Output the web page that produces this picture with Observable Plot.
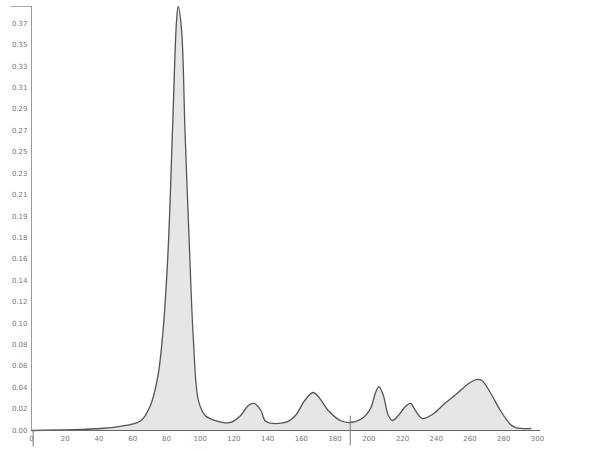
<!DOCTYPE html>
<html>
<head>
<meta charset="utf-8">
<script src="https://cdn.jsdelivr.net/npm/d3@7"></script>
<script src="https://cdn.jsdelivr.net/npm/@observablehq/plot@0.6"></script>
<style>
  html, body { margin: 0; padding: 0; background: #fff; }
  #chart svg { display: block; }
</style>
</head>
<body>
<div id="chart"></div>
<script>
const xValues = [0, 41, 56, 65, 70.5, 75, 78, 81, 83.6, 86, 87, 89, 91, 93.7, 96, 99, 103, 109, 118, 124, 128.6, 132, 136, 139, 150.5, 156.5, 162, 167, 170, 176, 183, 189, 196, 201, 204, 206, 208.6, 211.6, 214, 217.5, 221.7, 224.7, 227.6, 231.8, 237.7, 245, 253, 260, 263.8, 267, 272, 278, 284, 287, 296];
const yValues = [0.0, 0.0018, 0.0046, 0.0091, 0.0228, 0.050, 0.091, 0.164, 0.273, 0.373, 0.386, 0.364, 0.273, 0.164, 0.082, 0.027, 0.0137, 0.0091, 0.0073, 0.0137, 0.0228, 0.0246, 0.0182, 0.0082, 0.0073, 0.0137, 0.0273, 0.0346, 0.031, 0.0182, 0.0091, 0.0073, 0.0109, 0.020, 0.0346, 0.040, 0.0319, 0.0137, 0.0091, 0.0137, 0.0218, 0.0246, 0.0182, 0.0109, 0.0146, 0.0246, 0.0346, 0.0437, 0.0464, 0.0455, 0.0346, 0.0182, 0.0055, 0.0027, 0.0018];
const xTicks = [0, 20, 40, 60, 80, 100, 120, 140, 160, 180, 200, 220, 240, 260, 280, 300];
const yTickValues = [0, 0.0195, 0.039, 0.0585, 0.078, 0.0975, 0.117, 0.1365, 0.156, 0.1755, 0.195, 0.2145, 0.234, 0.2535, 0.273, 0.2925, 0.312, 0.3315, 0.351, 0.3705];
const yTickLabels = ["0.00", "0.02", "0.04", "0.06", "0.08", "0.10", "0.12", "0.14", "0.16", "0.18", "0.19", "0.21", "0.23", "0.25", "0.27", "0.29", "0.31", "0.33", "0.35", "0.37"];
const markerX = [189];

const data = xValues.map((x, i) => ({x, y: yValues[i]}));
const labelOf = new Map(yTickValues.map((v, i) => [v, yTickLabels[i]]));

const chart = Plot.plot({
  width: 589,
  height: 453,
  marginLeft: 31,
  marginRight: 52,
  marginTop: 6,
  marginBottom: 23,
  style: {fontFamily: "DejaVu Sans", fontSize: "7px", color: "#777", background: "#fff"},
  x: {domain: [0, 300], axis: null, label: null},
  y: {domain: [0, 0.386], axis: null, label: null},
  marks: [
    Plot.areaY(data, {x: "x", y: "y", fill: "#e6e6e6", curve: "catmull-rom"}),
    Plot.lineY(data, {x: "x", y: "y", stroke: "#555", strokeWidth: 1.3, curve: "catmull-rom"}),
    Plot.ruleX([0], {y1: 0, y2: 0.386, stroke: "#999", strokeWidth: 1}),
    Plot.ruleY([0.386], {x1: -12, x2: 0, stroke: "#aaa", strokeWidth: 1}),
    Plot.ruleY([0], {x1: 0, x2: 302, stroke: "#666", strokeWidth: 1.2}),
    Plot.ruleX(markerX, {y1: -0.014, y2: 0.013, stroke: "#777", strokeWidth: 1}),
    Plot.ruleX([1], {y1: -0.015, y2: 0, stroke: "#777", strokeWidth: 1}),
    Plot.axisY(yTickValues, {anchor: "left", label: null, tickSize: 0, tickPadding: 4, tickFormat: d => labelOf.get(d), fill: "#777", fontSize: 7}),
    Plot.axisX(xTicks, {anchor: "bottom", label: null, tickSize: 0, tickPadding: 6, fill: "#777", fontSize: 7})
  ]
});
document.getElementById("chart").appendChild(chart);
</script>
</body>
</html>
